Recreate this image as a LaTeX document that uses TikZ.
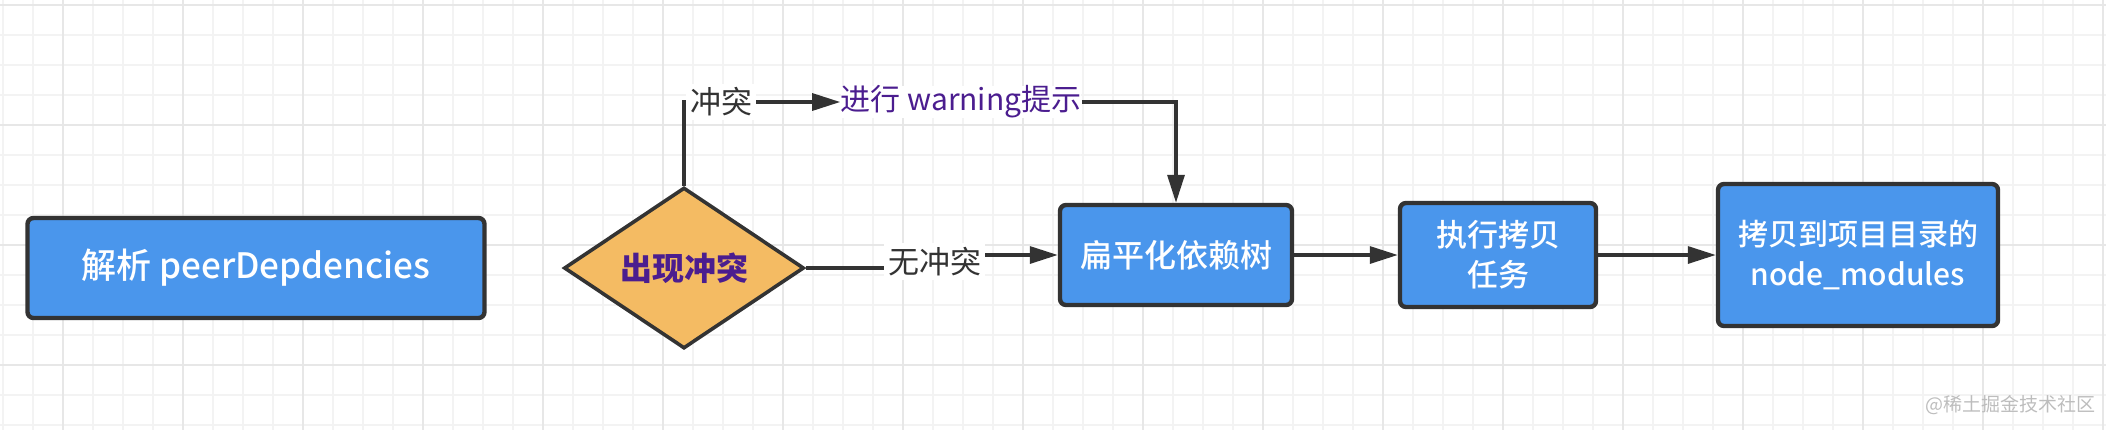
\documentclass[tikz,border=0pt]{standalone}
\usepackage{fontspec}
\setmainfont{Noto Sans CJK SC}
\newfontfamily\boxfont{Noto Sans CJK SC Medium}
\usetikzlibrary{shapes.geometric, arrows.meta, positioning}

\definecolor{boxblue}{HTML}{4A96EC}
\definecolor{decorange}{HTML}{F4BB63}
\definecolor{linegray}{HTML}{333333}
\definecolor{warnpurple}{HTML}{4B1D8F}
\definecolor{gridminor}{HTML}{F3F3F3}
\definecolor{gridmajor}{HTML}{E7E7E7}
\definecolor{markgray}{HTML}{BDBDBD}

\tikzset{
  stepbox/.style={draw=linegray, line width=2.2pt, fill=boxblue, rounded corners=3pt,
    text=white, align=center, inner sep=0pt,
    font=\boxfont\fontsize{15pt}{20pt}\selectfont},
  decision/.style={diamond, aspect=1.49, draw=linegray, line width=1.8pt, fill=decorange,
    inner sep=0pt, text=warnpurple, font=\fontsize{16pt}{20pt}\selectfont\bfseries},
  flow/.style={draw=linegray, line width=1.6pt, -{Triangle[length=14pt, width=8.5pt]}},
  elabel/.style={fill=white, text=linegray, inner sep=2pt, font=\fontsize{15.5pt}{18pt}\selectfont},
}

\begin{document}
\begin{tikzpicture}[x=0.5pt, y=-0.5pt]
\useasboundingbox (0,0) rectangle (2106,430);

% grid background
\foreach \x in {3,33,...,2106} \draw[gridminor, line width=1pt] (\x,0) -- (\x,430);
\foreach \y in {5,35,...,430} \draw[gridminor, line width=1pt] (0,\y) -- (2106,\y);
\foreach \x in {63,183,...,2106} \draw[gridmajor, line width=1pt] (\x,0) -- (\x,430);
\foreach \y in {5,125,...,430} \draw[gridmajor, line width=1pt] (0,\y) -- (2106,\y);

% steps
\node[stepbox, minimum width=228.5pt, minimum height=50pt,
  font=\boxfont\fontsize{17.5pt}{20pt}\selectfont] (parse) at (256,268) {解析 peerDepdencies};
\node[decision, minimum width=120pt, minimum height=80.5pt] (check) at (684,268) {出现冲突};
\node[stepbox, minimum width=116pt, minimum height=50pt,
  font=\boxfont\fontsize{16pt}{20pt}\selectfont] (flat) at (1176,255) {扁平化依赖树};
\node[stepbox, minimum width=98pt, minimum height=52pt,
  font=\boxfont\fontsize{15.5pt}{20pt}\selectfont] (copy) at (1498,255) {执行拷贝\\任务};
\node[stepbox, minimum width=140pt, minimum height=71pt] (dest) at (1858,255) {拷贝到项目目录的\\node\_modules};

% warning text
\node[fill=white, text=warnpurple, inner sep=0pt, font=\fontsize{15pt}{18pt}\selectfont] (warn) at (961,102) {进行 warning提示};

% connectors
\draw[flow] (check.north) |- node[elabel, pos=0.62] {冲突} (warn.west);
\draw[flow] (warn.east) -| (flat.north);
\draw[flow] (check.east) -- ++(129,0) |- node[elabel, pos=0.25] {无冲突} (flat.west);
\draw[flow] (flat.east) -- (copy.west);
\draw[flow] (copy.east) -- (dest.west);

% watermark
\node[text=markgray, font=\fontsize{9.5pt}{11pt}\selectfont] (mark) at (2010,405) {@稀土掘金技术社区};
\end{tikzpicture}
\end{document}
